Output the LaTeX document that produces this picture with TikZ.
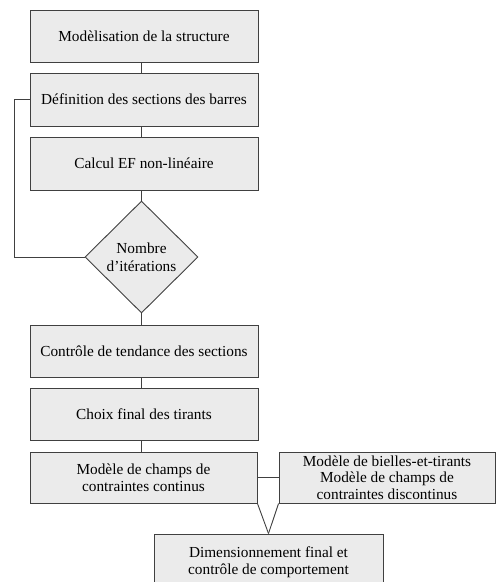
\documentclass[tikz,border=0pt]{standalone}
\usepackage{fontspec}
\setmainfont{Liberation Serif}
\usetikzlibrary{shapes.geometric}
\begin{document}
\begin{tikzpicture}[x=1pt,y=-1pt,
  stepbox/.style={draw=black!75, line width=0.9pt, fill=black!8, rectangle,
    minimum width=228pt, minimum height=52pt, inner sep=0pt, align=center,
    font=\fontsize{15.3}{16.6}\selectfont},
  decision/.style={draw=black!75, line width=0.9pt, fill=black!8, diamond,
    minimum width=113pt, minimum height=112pt, inner sep=0pt, align=center,
    font=\fontsize{15.3}{18}\selectfont},
  link/.style={draw=black!75, line width=0.9pt}]
\useasboundingbox (0,0) rectangle (496,582);
\begin{scope}
\clip (0,0) rectangle (496,582);
\node[stepbox] (b1) at (144,36) {Modèlisation de la structure};
\node[stepbox, minimum height=53pt] (b2) at (144,99.5) {Définition des sections des barres};
\node[stepbox, minimum height=53pt] (b3) at (144,163.5) {Calcul EF non-linéaire};
\node[decision] (d) at (141.5,257) {Nombre\\d’itérations};
\node[stepbox] (b4) at (144,351) {Contrôle de tendance des sections};
\node[stepbox] (b5) at (144,414) {Choix final des tirants};
\node[stepbox, minimum width=227pt, minimum height=51pt] (b6) at (143.5,477.5) {Modèle de champs de\\contraintes continus};
\node[stepbox, minimum width=216pt, minimum height=51pt] (r) at (387,477.5) {Modèle de bielles-et-tirants\\Modèle de champs de\\contraintes discontinus};
\node[stepbox, minimum width=229pt, minimum height=56pt] (bot) at (268.5,562) {Dimensionnement final et\\contrôle de comportement};
\coordinate (loop) at (14,0);

\draw[link] (b1.south -| d.center) -- (b2.north -| d.center);
\draw[link] (b2.south -| d.center) -- (b3.north -| d.center);
\draw[link] (b3.south -| d.center) -- (d.north);
\draw[link] (d.south) -- (b4.north -| d.center);
\draw[link] (b4.south -| d.center) -- (b5.north -| d.center);
\draw[link] (b5.south -| d.center) -- (b6.north -| d.center);
\draw[link] (b2.west) -- (b2.west -| loop) -- (d.west -| loop) -- (d.west);
\draw[link] (b6.east) -- (r.west);
\draw[link] (b6.south east) -- (bot.north);
\draw[link] (r.south west) -- (bot.north);
\end{scope}
\end{tikzpicture}
\end{document}
